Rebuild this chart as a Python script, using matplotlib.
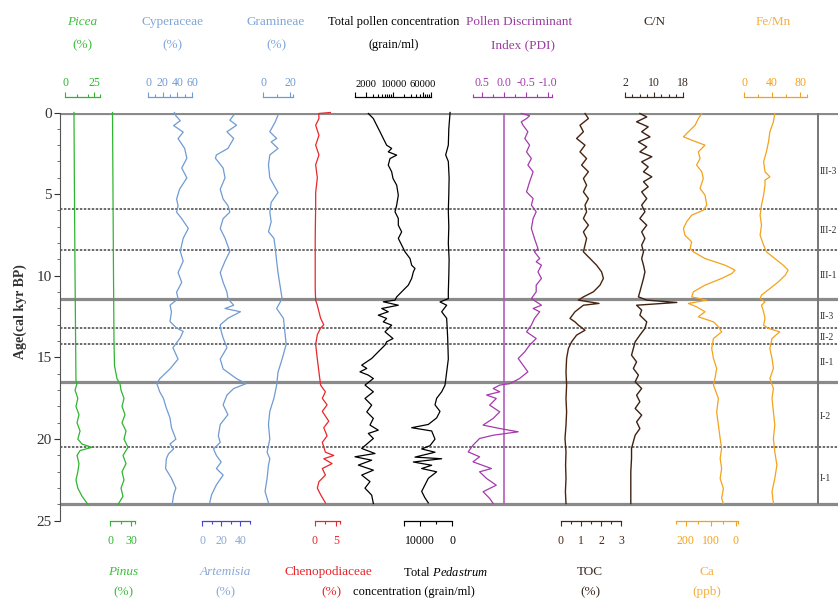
import matplotlib
matplotlib.use('Agg')
import matplotlib.pyplot as plt
from matplotlib.ticker import NullFormatter

plt.rcParams['font.family'] = ['Liberation Serif', 'DejaVu Serif']
plt.rcParams['mathtext.fontset'] = 'custom'
plt.rcParams['mathtext.rm'] = 'Liberation Serif'
plt.rcParams['mathtext.it'] = 'Liberation Serif:italic'

# ---- data (age in cal kyr BP) ----
picea_age = [0, 5, 10, 16.4, 16.6, 17.0, 17.5, 18.0, 18.5, 19.0, 19.5, 20.0, 20.3, 20.5, 20.7, 21.0, 21.5, 22.0, 22.5, 23.0, 23.5, 24.0]
picea_val = [7.7, 8.1, 8.6, 9.4, 10.3, 8.6, 11, 9.4, 12, 10.3, 12.9, 11, 14.6, 23, 12.9, 10.3, 12, 11, 9.4, 11, 14.6, 19.7]

pinus_age = [0, 5, 10, 14, 15.5, 16.3, 16.6, 17, 17.5, 18, 18.5, 19, 19.5, 20, 20.5, 21, 21.5, 22, 22.5, 23, 23.5, 24]
pinus_val = [3.5, 4.2, 4.9, 5.6, 6.3, 9.8, 14, 15.4, 19.6, 16.8, 21, 16.8, 22.4, 19.6, 25.2, 18.2, 22.4, 16.8, 19.6, 15.4, 18.2, 11.2]

cyp_age = [0, 0.2, 0.5, 0.8, 1.2, 1.6, 2.2, 2.8, 3.4, 4.0, 4.7, 5.3, 5.7, 6.1, 6.5, 7.1, 7.7, 8.5, 9.1, 9.8,
           10.4, 11.0, 11.4, 11.8, 12.2, 12.8, 13.2, 13.4, 13.8, 14.4, 15.1, 15.7, 16.3, 16.6, 17.1, 17.5, 18.1,
           18.7, 19.3, 20.0, 20.3, 20.6, 20.9, 21.2, 21.8, 22.4, 23.0, 23.4, 24.0]
cyp_val = [36, 38, 44, 35, 48, 41, 50, 53, 46, 53, 43, 39, 41, 39, 46, 55, 48, 44, 48, 41,
           46, 39, 41, 30, 32, 30, 39, 48, 44, 34, 41, 30, 16, 12, 16, 21, 25,
           30, 32, 38, 30, 35, 28, 25, 24, 32, 38, 35, 33]

art_age = [0.16, 0.47, 0.78, 1.18, 1.59, 2.2, 2.6, 2.8, 3.4, 4.0, 4.7, 5.3, 5.7, 6.1, 6.5, 7.1, 7.7, 8.5, 9.1, 9.8,
           10.4, 11.0, 11.4, 11.8, 12.0, 12.2, 12.6, 13.0, 13.4, 13.8, 14.4, 15.1, 15.7, 16.3, 16.6, 16.9, 17.3,
           17.9, 18.5, 19.1, 19.8, 20.2, 20.6, 21.0, 21.4, 21.8, 22.2, 22.8, 23.4, 23.9]
art_val = [33, 29, 36, 26, 33, 27, 15, 14, 22, 24, 19, 22, 27, 29, 22, 19, 24, 29, 24, 19,
           22, 26, 27, 33, 24, 40, 27, 19, 20, 22, 26, 19, 22, 36, 46, 33, 26,
           22, 27, 19, 17, 19, 12, 15, 20, 15, 22, 15, 10, 8]

gram_age = [0.16, 0.57, 1.18, 1.59, 1.8, 2.2, 2.6, 3.2, 4.0, 4.9, 5.5, 6.1, 6.7, 7.3, 7.7, 8.3, 9.1, 9.8, 10.6,
            11.4, 12.0, 12.6, 13.4, 14.2, 15.1, 15.9, 16.7, 17.5, 18.3, 19.1, 20.0, 20.8, 21.2, 21.6, 22.4, 23.2, 23.9]
gram_val = [11, 9, 5, 10, 6, 11, 5, 4, 5, 11, 6, 5, 6, 4, 8, 9, 10, 11, 12.5,
            14, 10, 15, 16, 17, 14, 11, 10, 8, 5, 4, 5, 3, 5, 4, 3, 1.5, 4]

cheno_age = [0.0, 0.06, 0.37, 0.78, 1.4, 2.0, 2.6, 3.2, 4.0, 4.9, 5.7, 6.7, 7.7, 8.7, 9.8, 10.8, 11.5, 11.8, 12.2,
             12.6, 13.0, 13.2, 13.6, 14.2, 15.1, 15.9, 16.7, 17.1, 17.5, 17.9, 18.3, 18.9, 19.3, 19.8, 20.2, 20.8,
             21.0, 21.2, 21.5, 21.8, 22.2, 22.6, 23.0, 23.4, 23.9]
cheno_val = [3.7, 0.9, 0.95, 0.16, 0.95, 0.16, 0.95, 0.16, 0.56, 0.16, 0.16, 0.1, 0.05, 0.05, 0.05, 0.05, 0.16,
             0.56, 0.95, 1.35, 2.1, 1.35, 0.56, 0.16, 0.56, 0.95, 1.35, 2.5, 1.75, 2.9, 1.75, 3.3, 2.1, 2.9,
             1.75, 2.5, 4.5, 2.1, 4.1, 1.75, 2.5, 0.95, 0.56, 1.35, 2.5]

tp_age = [0.06, 0.37, 0.78, 1.18, 1.59, 2.0, 2.2, 2.41, 2.61, 2.82, 3.22, 3.63, 4.04, 4.45, 5.06, 5.67, 6.08,
          6.49, 6.9, 7.31, 7.71, 8.12, 8.53, 8.94, 9.35, 9.55, 9.76, 10.16, 10.57, 10.98, 11.29, 11.49, 11.59,
          11.8, 12.0, 12.2, 12.41, 12.61, 12.82, 13.02, 13.43, 13.84, 14.04, 14.24, 14.65, 15.06, 15.47, 15.67,
          15.88, 16.08, 16.29, 16.69, 17.1, 17.51, 17.92, 18.33, 18.73, 19.14, 19.45, 19.65, 19.96, 20.57,
          20.88, 21.08, 21.29, 21.59, 21.9, 22.2, 22.6, 23.0, 23.43, 23.94]
tp_val = [2240, 3040, 3720, 4550, 5550, 6800, 9220, 7500, 12500, 8340, 7500, 9220, 10000, 12500, 13800, 12500,
          11300, 13800, 13800, 16900, 13800, 16900, 20700, 28000, 31000, 37900, 34300, 31000, 25300, 16900,
          12500, 11300, 5550, 13800, 5050, 7500, 4100, 6800, 5550, 9220, 6160, 10000, 6800, 6160, 4100, 2750,
          1500, 2040, 1350, 2240, 3040, 1830, 3040, 1830, 2750, 2040, 3040, 2480, 4100, 2240, 3040, 1500,
          3360, 1000, 2750, 1225, 3040, 1500, 2480, 1830, 2750, 3040]

ped_age = [0.0, 1.0, 2.0, 2.6, 3.0, 4.0, 5.0, 6.0, 7.0, 8.0, 9.0, 10.0, 11.0, 11.4, 11.6, 11.8, 12.2, 12.6, 13.8,
           15.1, 15.9, 16.7, 17.1, 17.5, 17.9, 18.3, 18.7, 19.1, 19.3, 19.5, 20.0, 20.4, 20.6, 20.8, 21.1, 21.2,
           21.4, 21.6, 21.8, 22.0, 22.4, 22.8, 23.2, 23.6, 23.9]
ped_val = [600, 1000, 1150, 1980, 1150, 900, 1000, 1150, 1000, 1150, 900, 1000, 1150, 1150, 3750, 1670, 3230,
           1670, 1350, 1150, 1670, 2190, 3230, 4800, 5310, 3750, 4800, 7400, 12600, 6350, 5310, 6880, 9480,
           5310, 11560, 3230, 12080, 6350, 9480, 4800, 7400, 8440, 9480, 8440, 7400]

pdi_age = [0.06, 0.2, 0.37, 0.57, 0.78, 1.18, 1.59, 2.0, 2.41, 2.82, 3.22, 3.63, 4.24, 4.86, 5.27, 5.67, 6.08,
           6.49, 7.1, 7.71, 8.33, 8.53, 8.94, 9.14, 9.35, 9.76, 10.16, 10.57, 10.98, 11.39, 11.8, 12.0, 12.2,
           12.61, 13.02, 13.43, 13.84, 14.24, 14.65, 15.06, 15.47, 15.88, 16.29, 16.6, 16.69, 16.9, 17.1, 17.3,
           17.51, 17.92, 18.33, 18.73, 19.14, 19.35, 19.55, 19.76, 19.96, 20.37, 20.78, 21.08, 21.39, 21.8,
           22.0, 22.41, 22.82, 23.22, 23.63, 23.94]
pdi_val = [-0.40, -0.59, -0.52, -0.40, -0.44, -0.55, -0.48, -0.59, -0.52, -0.63, -0.55, -0.67, -0.59, -0.52,
           -0.67, -0.63, -0.74, -0.67, -0.63, -0.70, -0.78, -0.70, -0.82, -0.74, -0.86, -0.78, -0.86, -0.74,
           -0.74, -0.63, -0.86, -0.67, -0.82, -0.70, -0.63, -0.52, -0.74, -0.59, -0.48, -0.33, -0.44, -0.55,
           -0.36, -0.14, 0.09, 0.24, 0.09, 0.39, 0.17, 0.32, 0.09, 0.24, 0.47, 0.09, -0.33, 0.24, 0.55, 0.70,
           0.81, 0.55, 0.70, 0.28, 0.55, 0.39, 0.17, 0.47, 0.32, 0.24]

toc_age = [0.06, 0.37, 0.78, 1.18, 1.59, 2.0, 2.41, 2.82, 3.22, 3.63, 4.04, 4.45, 4.86, 5.27, 5.67, 6.08, 6.49,
           6.9, 7.31, 7.71, 8.12, 8.53, 8.94, 9.35, 9.76, 10.16, 10.57, 10.98, 11.29, 11.49, 11.69, 11.8, 12.2,
           12.61, 12.82, 13.02, 13.33, 13.63, 14.04, 14.45, 15.06, 15.88, 16.69, 17.51, 18.33, 19.14, 19.96,
           20.78, 21.59, 22.41, 23.22, 23.94]
toc_val = [1.2, 1.37, 0.95, 1.12, 0.78, 1.2, 0.95, 1.28, 1.03, 1.37, 1.12, 1.28, 1.12, 1.37, 1.2, 1.28, 1.12,
           1.37, 1.12, 1.28, 1.2, 1.12, 1.45, 1.78, 2.03, 2.12, 1.95, 1.62, 1.12, 0.87, 1.9, 1.12, 0.7,
           0.45, 0.7, 0.87, 1.2, 0.78, 0.53, 0.37, 0.28, 0.25, 0.28, 0.25, 0.28, 0.25, 0.2,
           0.25, 0.23, 0.25, 0.22, 0.25]

cn_age = [0.06, 0.27, 0.57, 0.88, 1.18, 1.49, 1.8, 2.1, 2.41, 2.71, 3.02, 3.33, 3.63, 3.94, 4.24, 4.55, 4.86,
          5.27, 5.67, 6.08, 6.49, 6.9, 7.31, 7.71, 8.12, 8.53, 8.94, 9.35, 9.76, 10.16, 10.57, 10.98, 11.29,
          11.49, 11.63, 11.8, 12.1, 12.41, 12.82, 13.22, 13.63, 14.04, 14.45, 14.86, 15.27, 15.67, 16.08,
          16.49, 16.9, 17.31, 17.71, 18.12, 18.53, 18.94, 19.35, 19.76, 20.16, 20.57, 21.18, 22.0, 22.82, 23.94]
cn_val = [6.1, 8.0, 5.2, 8.4, 6.6, 8.9, 5.7, 8.0, 6.1, 9.4, 6.6, 8.4, 7.1, 9.4, 7.1, 8.4, 6.6, 8.0, 6.6, 7.5,
          6.1, 8.0, 6.6, 7.5, 6.6, 7.1, 6.6, 7.1, 7.5, 7.1, 6.6, 6.1, 5.7, 8.0, 16.3, 5.2, 6.6, 6.1, 8.0, 7.5,
          6.1, 4.8, 4.3, 3.8, 5.2, 4.3, 5.7, 4.8, 6.6, 5.2, 6.1, 4.8, 6.6, 5.2, 6.1, 4.8, 4.3, 3.8, 3.8, 3.6,
          3.6, 3.6]

ca_age = [0.06, 0.37, 0.78, 1.18, 1.49, 1.69, 2.0, 2.41, 2.82, 3.22, 3.63, 4.04, 4.65, 5.06, 5.67, 5.98, 6.29,
          6.69, 7.1, 7.51, 7.92, 8.33, 8.53, 8.94, 9.35, 9.65, 9.86, 10.16, 10.57, 10.98, 11.29, 11.49, 11.69,
          11.9, 12.2, 12.51, 12.82, 13.12, 13.43, 13.84, 14.45, 15.06, 15.67, 16.29, 16.69, 17.51, 18.33, 19.14,
          19.96, 20.57, 21.18, 21.8, 22.41, 23.02, 23.63, 23.94]
ca_val = [136, 150, 163, 190, 210, 177, 123, 150, 143, 157, 136, 130, 143, 123, 116, 130, 177, 197, 210, 204,
          177, 183, 170, 123, 42, 2, 15, 56, 123, 170, 177, 116, 190, 157, 123, 150, 89, 69, 56, 89, 96, 89,
          76, 83, 89, 69, 76, 69, 62, 56, 62, 56, 62, 49, 56, 49]

femn_age = [0.06, 0.57, 1.18, 1.8, 2.41, 3.02, 3.63, 3.94, 4.14, 4.45, 5.06, 5.67, 6.29, 6.9, 7.51, 8.12, 8.53,
            8.94, 9.35, 9.65, 9.96, 10.37, 10.78, 11.18, 11.39, 11.59, 11.8, 12.2, 12.61, 13.02, 13.22, 13.43,
            13.84, 14.45, 15.06, 15.67, 16.29, 16.9, 17.51, 18.33, 19.14, 19.96, 20.78, 21.59, 22.41, 23.22, 23.94]
femn_val = [44, 42, 37, 35, 32, 28, 30, 37, 30, 30, 28, 25, 23, 25, 23, 28, 32, 44, 56, 63, 59, 49, 37, 25, 23,
            30, 25, 28, 30, 28, 35, 51, 40, 37, 40, 42, 37, 42, 40, 42, 44, 42, 44, 47, 44, 40, 42]

solid_ages = [0, 11.4, 16.5, 24]
dashed_ages = [5.9, 8.4, 13.2, 14.2, 20.5]
zone_names = ['III-3', 'III-2', 'III-1', 'II-3', 'II-2', 'II-1', 'I-2', 'I-1']
zone_label_ages = [3.6, 7.2, 10.0, 12.5, 13.75, 15.3, 18.6, 22.4]

# ---- figure ----
W, H = 838, 601
fig = plt.figure(figsize=(W / 100, H / 100), dpi=100)
Y0, Y25 = 112.5, 520.8   # pixel rows of age 0 and age 25


def px_axes(x0, x1):
    return fig.add_axes([x0 / W, 1 - Y25 / H, (x1 - x0) / W, (Y25 - Y0) / H])


main = px_axes(60, 838)
main.set_xlim(0, 1)
main.set_ylim(25, 0)
for s in ['top', 'right', 'bottom']:
    main.spines[s].set_visible(False)
main.spines['left'].set_color('#555555')
main.set_xticks([])
main.set_yticks(range(0, 26, 5))
main.set_yticks(range(0, 26), minor=True)
main.tick_params(axis='y', which='major', length=4, labelsize=11, colors='#333333', pad=2)
main.tick_params(axis='y', which='minor', length=2, colors='#555555')
main.hlines(solid_ages, 0, 1, colors='#8a8a8a', lw=2.3)
main.hlines(dashed_ages, 0, 1, colors='#444444', lw=1.1, linestyles=(0, (1.6, 1.0)))
main.vlines(0.974, 0, 24, colors='#777777', lw=1.4)
for name, a in zip(zone_names, zone_label_ages):
    main.text(0.9765, a, name, fontsize=7, va='center', ha='left', color='#333333', clip_on=False)
fig.text(20 / W, 1 - 312 / H, 'Age(cal kyr BP)', rotation=90, ha='center', va='center',
         fontsize=10, fontweight='bold', color='#333333')


def column(x0, x1, lim, side, color, major, labels, minor=(), log=False, size=8.5):
    ax = px_axes(x0, x1)
    if log:
        ax.set_xscale('log')
    ax.set_xlim(*lim)
    ax.set_ylim(25, 0)
    ax.patch.set_visible(False)
    for s in ax.spines.values():
        s.set_visible(False)
    sp = ax.spines[side]
    sp.set_visible(True)
    sp.set_color(color)
    sp.set_linewidth(0.9)
    sp.set_position(('outward', 11.5 if side == 'top' else 0.5))
    ax.xaxis.set_ticks_position(side)
    ax.set_xticks(major, labels)
    ax.set_xticks(list(minor), minor=True)
    ax.xaxis.set_minor_formatter(NullFormatter())
    ax.tick_params(axis='x', which='both', colors=color, direction='out', labelsize=size,
                   pad=2 if side == 'top' else 6, width=0.8)
    ax.tick_params(axis='x', which='major', length=3.5)
    ax.tick_params(axis='x', which='minor', length=2)
    ax.set_yticks([])
    return ax


GREEN = '#2fb52f'
BLUE = '#6f9bd2'
RED = '#e8262b'
PURPLE = '#a53aad'
BROWN = '#4b2410'
ORANGE = '#f4a21c'

ax = column(65, 100, (0, 30), 'top', GREEN, [0, 25], ['0', '25'], [10, 20, 30])
ax.plot(picea_val, picea_age, color=GREEN, lw=0.9, clip_on=False)

ax = column(110, 135, (0, 35), 'bottom', GREEN, [0, 30], ['0', '30'], [15, 35])
ax.plot(pinus_val, pinus_age, color=GREEN, lw=0.9, clip_on=False)

ax = column(148, 192, (0, 60), 'top', BLUE, [0, 20, 40, 60], ['0', '20', '40', '60'], [10, 30, 50])
ax.plot(cyp_val, cyp_age, color=BLUE, lw=0.9, clip_on=False)

ax = column(202, 250, (0, 50), 'bottom', '#4646d2', [0, 20, 40], ['0', '20', '40'], [10, 30, 50])
ax.tick_params(axis='x', labelcolor='#8aa8d8')
ax.plot(art_val, art_age, color=BLUE, lw=0.9, clip_on=False)

ax = column(263, 293, (0, 22), 'top', BLUE, [0, 20], ['0', '20'], [10, 22])
ax.plot(gram_val, gram_age, color=BLUE, lw=0.9, clip_on=False)

ax = column(315, 340, (0, 6), 'bottom', RED, [0, 5], ['0', '5'], [2.5, 6])
ax.plot(cheno_val, cheno_age, color=RED, lw=0.9, clip_on=False)

ax = column(355, 431, (1000, 100000), 'top', 'black', [1000, 2000, 10000, 60000, 100000],
            ['', '2000', '10000', '60000', ''],
            [3000, 4000, 5000, 6000, 7000, 8000, 9000, 20000, 30000, 40000, 50000, 70000, 80000, 90000],
            log=True, size=7.6)
ax.plot(tp_val, tp_age, color='black', lw=0.9, clip_on=False)

ax = column(404, 452, (15000, 0), 'bottom', 'black', [15000, 10000, 0], ['', '10000', '0'], [5000])
ax.plot(ped_val, ped_age, color='black', lw=0.9, clip_on=False)

ax = column(473, 552, (0.7, -1.1), 'top', PURPLE, [0.5, 0.0, -0.5, -1.0], ['0.5', '0.0', '-0.5', '-1.0'],
            [0.7, 0.25, -0.25, -0.75, -1.1])
ax.vlines(0, 0, 24, colors='#b45cc0', lw=1.2)
ax.plot(pdi_val, pdi_age, color=PURPLE, lw=0.9, clip_on=False)

ax = column(561, 621, (0, 3), 'bottom', BROWN, [0, 1, 2, 3], ['0', '1', '2', '3'], [0.5, 1.5, 2.5])
ax.plot(toc_val, toc_age, color=BROWN, lw=1.0, clip_on=False)

ax = column(625, 683, (2, 18), 'top', '#3a2a20', [2, 10, 18], ['2', '10', '18'], [4, 6, 8, 12, 14, 16])
ax.plot(cn_val, cn_age, color='#3d2214', lw=1.0, clip_on=False)

ax = column(676, 738, (240, -10), 'bottom', ORANGE, [200, 100, 0], ['200', '100', '0'], [240, 150, 50, -10])
ax.plot(ca_val, ca_age, color=ORANGE, lw=0.9, clip_on=False)

ax = column(744, 807, (0, 90), 'top', ORANGE, [0, 40, 80], ['0', '40', '80'], [20, 60, 90])
ax.plot(femn_val, femn_age, color=ORANGE, lw=0.9, clip_on=False)

# ---- column titles ----
def label(x, y, s, color, size=9.5, style='normal'):
    fig.text(x / W, 1 - y / H, s, ha='center', va='center', color=color, fontsize=size, style=style)


label(82, 22, 'Picea', '#3cbf3c', style='italic')
label(82, 45, '(%)', '#3cbf3c')
label(172, 22, 'Cyperaceae', '#7fa6da')
label(172, 45, '(%)', '#7fa6da')
label(276, 22, 'Gramineae', '#7fa6da')
label(276, 45, '(%)', '#7fa6da')
label(394, 22, 'Total pollen concentration', 'black', size=9)
label(394, 45, '(grain/ml)', 'black', size=9)
label(519, 22, 'Pollen Discriminant', '#9b3ca0')
label(523, 45, 'Index (PDI)', '#9b3ca0')
label(654, 22, 'C/N', '#3a2a20')
label(773, 22, 'Fe/Mn', '#f5b040')

label(123, 572, 'Pinus', '#3cbf3c', style='italic')
label(123, 592, '(%)', '#3cbf3c')
label(225, 572, 'Artemisia', '#8aa8d8', style='italic')
label(225, 592, '(%)', '#8aa8d8')
label(328, 572, 'Chenopodiaceae', RED)
label(331, 592, '(%)', RED)
label(446, 572, r'Total $\mathit{Pedastrum}$', 'black', size=9)
label(414, 592, 'concentration (grain/ml)', 'black', size=9)
label(590, 572, 'TOC', '#3a2a20')
label(590, 592, '(%)', '#3a2a20')
label(707, 572, 'Ca', '#f5b040')
label(707, 592, '(ppb)', '#f5b040')

fig.savefig('out.png', dpi=100)
